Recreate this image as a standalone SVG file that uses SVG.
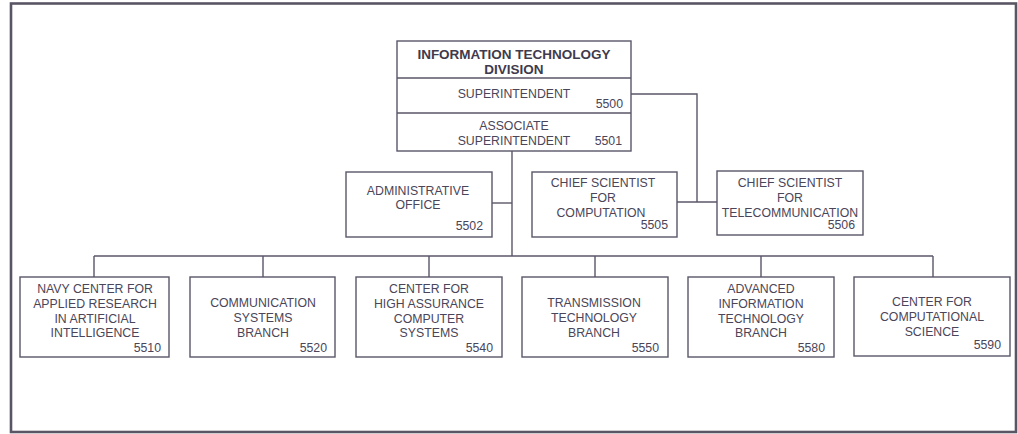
<svg xmlns="http://www.w3.org/2000/svg" width="1018" height="434" viewBox="0 0 1018 434">
<style>
.bx{fill:#ffffff;stroke:#5b5668;stroke-width:1.4}
.ln{fill:none;stroke:#5b5668;stroke-width:1.4}
.t{font-family:"Liberation Sans",Arial,sans-serif;font-size:12.3px;fill:#4a4558;text-anchor:middle}
.n{font-family:"Liberation Sans",Arial,sans-serif;font-size:12.3px;fill:#4a4558;text-anchor:end}
.h{font-family:"Liberation Sans",Arial,sans-serif;font-size:13.5px;font-weight:bold;fill:#3f3a4c;text-anchor:middle}
</style>
<rect x="0" y="0" width="1018" height="434" fill="#ffffff"/>
<rect x="11" y="3.5" width="1005" height="428.5" fill="none" stroke="#5a5565" stroke-width="2.6"/>
<g id="connectors">
<path class="ln" d="M512 151 V256"/>
<path class="ln" d="M492 203 H512"/>
<path class="ln" d="M631 94 H697 V202"/>
<path class="ln" d="M677 202 H717"/>
<path class="ln" d="M94 256 H933"/>
<path class="ln" d="M94 256 V277 M263 256 V277 M429 256 V277 M595 256 V277 M761 256 V277 M933 256 V277"/>
</g>
<g id="n-division">
<rect class="bx" x="397" y="41" width="234" height="110"/>
<path class="ln" d="M397 78 H631 M397 113 H631"/>
<text class="h" x="514" y="58.5">INFORMATION TECHNOLOGY</text>
<text class="h" x="514" y="74">DIVISION</text>
<text class="t" x="514" y="98">SUPERINTENDENT</text>
<text class="n" x="623" y="107.5">5500</text>
<text class="t" x="514" y="130">ASSOCIATE</text>
<text class="t" x="514" y="145">SUPERINTENDENT</text>
<text class="n" x="622" y="145">5501</text>
</g>
<g id="n-5502">
<rect class="bx" x="346" y="172" width="146" height="65"/>
<text class="t" x="418" y="195">ADMINISTRATIVE</text>
<text class="t" x="418" y="209">OFFICE</text>
<text class="n" x="483" y="230">5502</text>
</g>
<g id="n-5505">
<rect class="bx" x="532" y="172" width="145" height="65"/>
<text class="t" x="603" y="187">CHIEF SCIENTIST</text>
<text class="t" x="603" y="202">FOR</text>
<text class="t" x="601" y="217">COMPUTATION</text>
<text class="n" x="668" y="229">5505</text>
</g>
<g id="n-5506">
<rect class="bx" x="717" y="171" width="146" height="64"/>
<text class="t" x="790" y="187">CHIEF SCIENTIST</text>
<text class="t" x="790" y="202">FOR</text>
<text class="t" x="790" y="217">TELECOMMUNICATION</text>
<text class="n" x="855" y="229">5506</text>
</g>
<g id="n-5510">
<rect class="bx" x="20" y="277" width="149" height="80"/>
<text class="t" x="95" y="293">NAVY CENTER FOR</text>
<text class="t" x="95" y="308">APPLIED RESEARCH</text>
<text class="t" x="95" y="323">IN ARTIFICIAL</text>
<text class="t" x="95" y="337">INTELLIGENCE</text>
<text class="n" x="161" y="352">5510</text>
</g>
<g id="n-5520">
<rect class="bx" x="190" y="277" width="145" height="80"/>
<text class="t" x="263" y="307">COMMUNICATION</text>
<text class="t" x="263" y="322">SYSTEMS</text>
<text class="t" x="263" y="337">BRANCH</text>
<text class="n" x="327" y="352">5520</text>
</g>
<g id="n-5540">
<rect class="bx" x="356" y="277" width="146" height="80"/>
<text class="t" x="429" y="293">CENTER FOR</text>
<text class="t" x="429" y="308">HIGH ASSURANCE</text>
<text class="t" x="429" y="323">COMPUTER</text>
<text class="t" x="429" y="337">SYSTEMS</text>
<text class="n" x="493" y="352">5540</text>
</g>
<g id="n-5550">
<rect class="bx" x="522" y="277" width="146" height="80"/>
<text class="t" x="594" y="307">TRANSMISSION</text>
<text class="t" x="594" y="322">TECHNOLOGY</text>
<text class="t" x="594" y="337">BRANCH</text>
<text class="n" x="659" y="352">5550</text>
</g>
<g id="n-5580">
<rect class="bx" x="688" y="277" width="146" height="80"/>
<text class="t" x="761" y="293">ADVANCED</text>
<text class="t" x="761" y="308">INFORMATION</text>
<text class="t" x="761" y="323">TECHNOLOGY</text>
<text class="t" x="761" y="337">BRANCH</text>
<text class="n" x="825" y="352">5580</text>
</g>
<g id="n-5590">
<rect class="bx" x="854" y="277" width="156" height="79"/>
<text class="t" x="932" y="306">CENTER FOR</text>
<text class="t" x="932" y="321">COMPUTATIONAL</text>
<text class="t" x="932" y="336">SCIENCE</text>
<text class="n" x="1001" y="349">5590</text>
</g>
</svg>
